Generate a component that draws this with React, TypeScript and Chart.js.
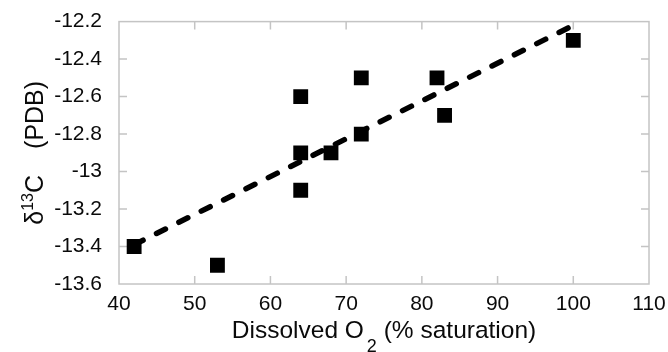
import React, { useEffect, useRef } from "react";
import { Chart, registerables } from "chart.js";

Chart.register(...registerables);

const oxygenSaturation = [42, 53, 64, 64, 64, 68, 72, 72, 82, 83, 100];
const delta13C = [-13.4, -13.5, -12.6, -12.9, -13.1, -12.9, -12.5, -12.8, -12.5, -12.7, -12.3];
const trendX = [42, 100];
const trendY = [-13.39, -12.22];
const xTicks = [40, 50, 60, 70, 80, 90, 100, 110];
const yTicks = [-13.6, -13.4, -13.2, -13, -12.8, -12.6, -12.4, -12.2];
const xTitleParts = ["Dissolved O", "2", " (% saturation)"];
const yTitleParts = ["δ", "13", "C", "(PDB)"];

const FONT = "'Liberation Sans', Arial, sans-serif";
const TEXT = "#0a0a0a";
const FRAME = "#c4c4c4";

const framePlugin = {
  id: "frame",
  beforeDatasetsDraw(chart: any) {
    const { ctx, chartArea } = chart;
    const { left, right, top, bottom } = chartArea;
    const xs = chart.scales.x;
    const ys = chart.scales.y;
    ctx.save();
    ctx.strokeStyle = FRAME;
    ctx.lineWidth = 1.5;
    ctx.strokeRect(left, top, right - left, bottom - top);
    const len = 8;
    ctx.beginPath();
    xTicks.slice(1, -1).forEach((v) => {
      const px = xs.getPixelForValue(v);
      ctx.moveTo(px, bottom);
      ctx.lineTo(px, bottom - len);
      ctx.moveTo(px, top);
      ctx.lineTo(px, top + len);
    });
    yTicks.slice(1, -1).forEach((v) => {
      const py = ys.getPixelForValue(v);
      ctx.moveTo(left, py);
      ctx.lineTo(left + len, py);
      ctx.moveTo(right, py);
      ctx.lineTo(right - len, py);
    });
    ctx.stroke();
    ctx.restore();
  },
  afterDraw(chart: any) {
    const { ctx, chartArea } = chart;
    const { left, right, top, bottom } = chartArea;
    ctx.save();
    ctx.fillStyle = TEXT;
    ctx.textBaseline = "alphabetic";
    ctx.textAlign = "left";

    // X title with subscript
    const mainX = `24.5px ${FONT}`;
    const subX = `18px ${FONT}`;
    ctx.font = mainX;
    const w1 = ctx.measureText(xTitleParts[0]).width;
    const w3 = ctx.measureText(xTitleParts[2]).width;
    ctx.font = subX;
    const w2 = ctx.measureText(xTitleParts[1]).width;
    const gap = 3;
    const total = w1 + gap + w2 + w3;
    let x = (left + right) / 2 - total / 2;
    const baseY = 338;
    ctx.font = mainX;
    ctx.fillText(xTitleParts[0], x, baseY);
    x += w1 + gap;
    ctx.font = subX;
    ctx.fillText(xTitleParts[1], x, baseY + 14);
    x += w2;
    ctx.font = mainX;
    ctx.fillText(xTitleParts[2], x, baseY);

    // Y title with superscript, rotated
    const mainY = `25px ${FONT}`;
    const supY = `16px ${FONT}`;
    ctx.font = mainY;
    const a = ctx.measureText(yTitleParts[0]).width;
    const c = ctx.measureText(yTitleParts[2]).width;
    const d = ctx.measureText(yTitleParts[3]).width;
    ctx.font = supY;
    const b = ctx.measureText(yTitleParts[1]).width;
    const wordGap = 26;
    const totalY = a + b + c + wordGap + d;
    ctx.translate(43, (top + bottom) / 2);
    ctx.rotate(-Math.PI / 2);
    let lx = -totalY / 2;
    ctx.font = mainY;
    ctx.fillText(yTitleParts[0], lx, 0);
    lx += a;
    ctx.font = supY;
    ctx.fillText(yTitleParts[1], lx, -10);
    lx += b;
    ctx.font = mainY;
    ctx.fillText(yTitleParts[2], lx, 0);
    lx += c + wordGap;
    ctx.fillText(yTitleParts[3], lx, 0);
    ctx.restore();
  },
};

export default function App() {
  const ref = useRef<HTMLCanvasElement | null>(null);
  useEffect(() => {
    if (!ref.current) return;
    const chart = new Chart(ref.current, {
      type: "scatter",
      data: {
        datasets: [
          {
            label: "δ13C",
            data: oxygenSaturation.map((v, i) => ({ x: v, y: delta13C[i] })),
            pointStyle: "rect",
            pointRadius: 10.5,
            pointHoverRadius: 10.5,
            backgroundColor: "#000",
            borderColor: "#000",
            borderWidth: 0,
            showLine: false,
          },
          {
            label: "trend",
            data: trendX.map((v, i) => ({ x: v, y: trendY[i] })),
            showLine: true,
            borderColor: "#000",
            borderWidth: 5.5,
            borderDash: [10, 15],
            borderCapStyle: "round",
            pointRadius: 0,
            pointHoverRadius: 0,
            fill: false,
          },
        ],
      } as any,
      options: {
        animation: false,
        responsive: false,
        maintainAspectRatio: false,
        events: [],
        layout: { padding: { top: 20, right: 19, left: 0, bottom: 0 } },
        plugins: { legend: { display: false }, tooltip: { enabled: false } },
        scales: {
          x: {
            type: "linear",
            min: 40,
            max: 110,
            afterBuildTicks: (s: any) => {
              s.ticks = xTicks.map((v) => ({ value: v }));
            },
            afterFit: (s: any) => {
              s.height = 68;
            },
            grid: { display: false },
            border: { display: false },
            ticks: {
              font: { family: FONT, size: 21 },
              color: TEXT,
              padding: 0,
              maxRotation: 0,
              autoSkip: false,
              callback: (v: any) => String(v),
            },
          },
          y: {
            type: "linear",
            min: -13.6,
            max: -12.2,
            afterBuildTicks: (s: any) => {
              s.ticks = yTicks.map((v) => ({ value: v }));
            },
            afterFit: (s: any) => {
              s.width = 119;
            },
            grid: { display: false },
            border: { display: false },
            ticks: {
              font: { family: FONT, size: 21 },
              color: TEXT,
              padding: 9,
              autoSkip: false,
              callback: (v: any) => String(Math.round(Number(v) * 10) / 10),
            },
          },
        },
      } as any,
      plugins: [framePlugin],
    });
    return () => chart.destroy();
  }, []);
  return (
    <div style={{ position: "fixed", left: 0, top: 0, width: 668, height: 352, background: "#fff" }}>
      <canvas ref={ref} width={668} height={352} style={{ display: "block" }} />
    </div>
  );
}
